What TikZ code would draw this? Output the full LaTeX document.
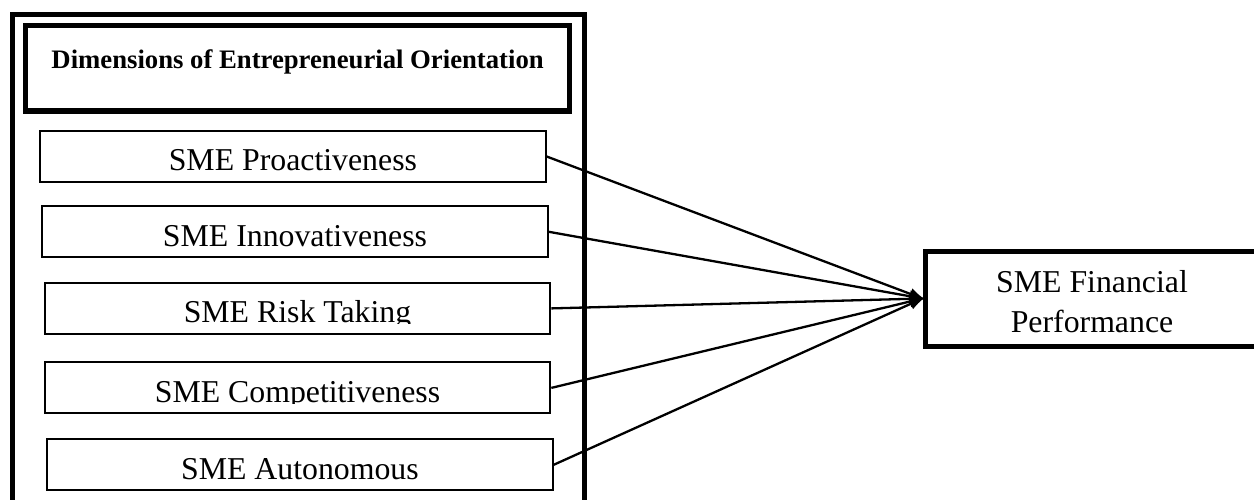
\documentclass[tikz,border=0pt]{standalone}
\usepackage{fontspec}
\setmainfont{Liberation Serif}
\usetikzlibrary{arrows.meta}
\begin{document}
\begin{tikzpicture}[x=1pt,y=-1pt,
  % outer frame that groups the dimensions
  groupframe/.style={draw, line width=5pt, inner sep=0pt,
    minimum width=572.5pt, minimum height=505.5pt},
  % bold heading box
  heading/.style={draw, line width=5.5pt, inner sep=0pt,
    minimum width=544pt, minimum height=85.5pt,
    font=\fontsize{26.7}{30}\selectfont\bfseries,
    text height=20pt, text depth=20pt},
  % one dimension box; its label sits low and loses its descenders
  dimbox/.style={draw, line width=2.1pt, inner sep=0pt,
    minimum width=505.5pt, minimum height=51pt,
    path picture={
      \clip ([yshift=10pt]path picture bounding box.south west)
        rectangle (path picture bounding box.north east);
      \node[draw=none, fill=none, anchor=base, inner sep=0pt,
        font=\fontsize{31.8}{36}\selectfont]
        at ([yshift=11pt]path picture bounding box.south) {#1};
    }},
  % outcome box
  outcome/.style={draw, line width=5pt, inner sep=0pt,
    minimum width=334pt, minimum height=95pt, align=center,
    font=\fontsize{31.8}{40}\selectfont},
  link/.style={line width=2.3pt, shorten >=-3pt,
    -{Latex[length=16pt,width=12pt]}}
]
\path[fill=white, use as bounding box] (0,0) rectangle (1254,500);

\node[groupframe] (group) at (298.25,267.25) {};
\node[heading] (head) at (297.6,68.25) {Dimensions of Entrepreneurial Orientation};

\node[dimbox={SME Proactiveness}]   (pro) at (292.9,156.5) {};
\node[dimbox={SME Innovativeness}]  (inn) at (295.0,231.8) {};
\node[dimbox={SME Risk Taking}]     (risk) at (297.5,308.4) {};
\node[dimbox={SME Competitiveness}] (comp) at (297.5,387.9) {};
\node[dimbox={SME Autonomous}]      (auto) at (299.9,464.8) {};

% the strut lowers the two-line label a little inside its box
\node[outcome] (fin) at (1092,298.5)
  {\rule{0pt}{28.5pt}SME Financial\\Performance};

\foreach \src in {pro,inn,risk,comp,auto}
  \draw[link] (\src.east) -- (fin.west);
\end{tikzpicture}
\end{document}
